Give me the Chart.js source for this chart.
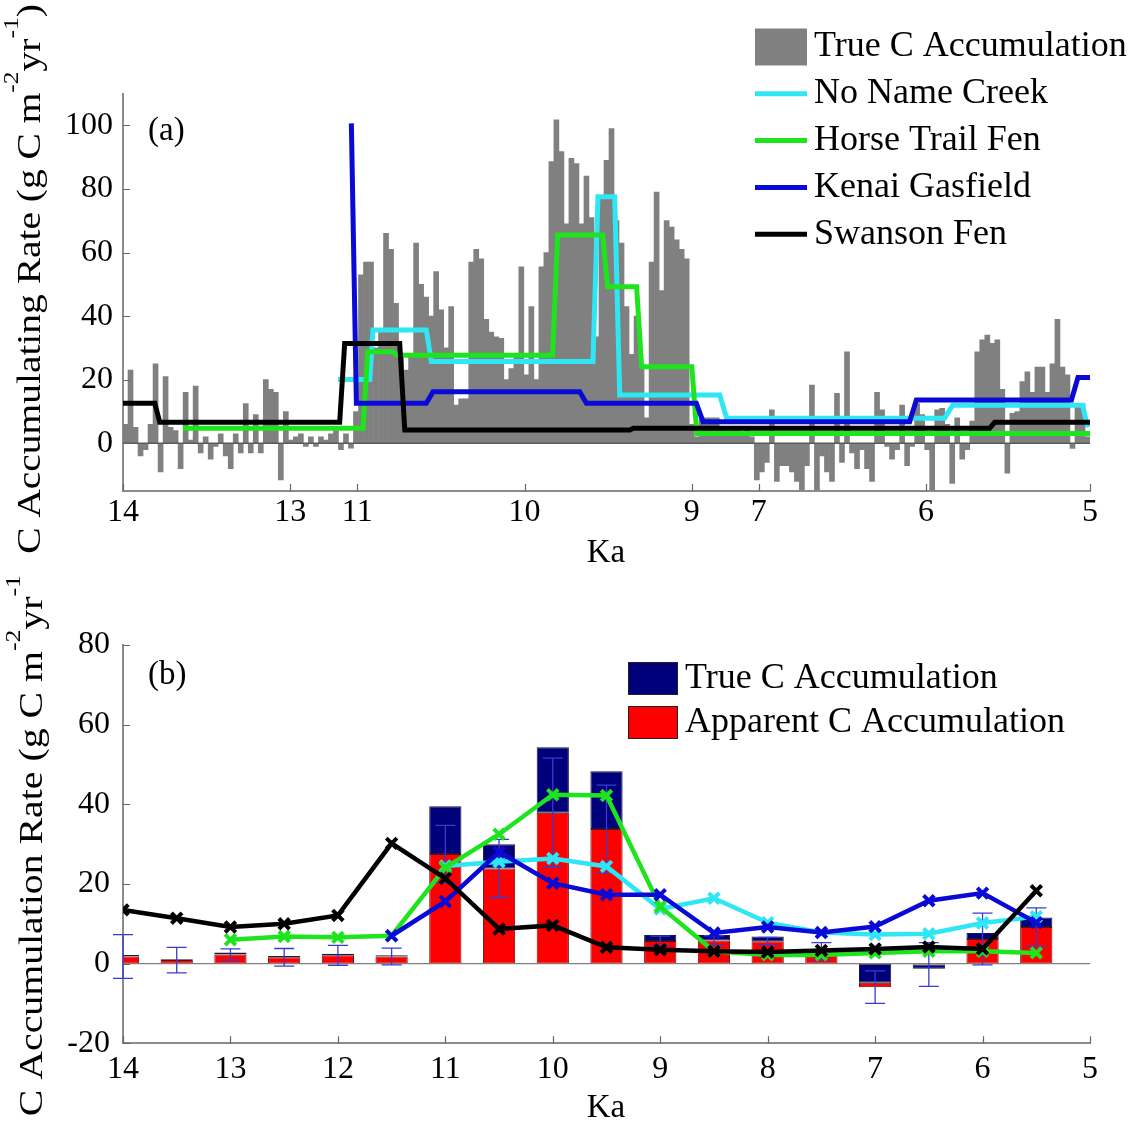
<!DOCTYPE html>
<html>
<head>
<meta charset="utf-8">
<script src="https://cdn.jsdelivr.net/npm/chart.js@4.4.1/dist/chart.umd.min.js"></script>
<style>
  html, body { margin: 0; background: #fff; overflow: hidden; }
  #wrap { position: relative; width: 1141px; height: 1123px; }
  canvas { position: absolute; left: 0; }
</style>
</head>
<body>
<div id="wrap">
  <canvas id="topChart" width="1141" height="574" style="top:0"></canvas>
  <canvas id="bottomChart" width="1141" height="549" style="top:574px"></canvas>
</div>
<script>
const serif = '"Liberation Serif", "Times New Roman", serif';

// ---------- panel (a): core-resolution record ----------
// age axis is stretched piecewise, so ticks sit at fixed positions with their own labels
const ageTickPos = [0, 1, 1.4, 2.4, 3.4, 3.8, 4.8, 5.78];
const ageTickLabels = ['14', '13', '11', '10', '9', '7', '6', '5'];
const rateTicksA = [0, 20, 40, 60, 80, 100];

// true C accumulation, evenly spaced samples along the age axis
const trueAccum = [
  6, 23, 5, -4, -2, 6, 25, -9, 21, 5,
  4, -8, 16, 1, 18, -3, 2, -5, -1, 3,
  -4, -8, 3, -3, 12.5, -3, 9, -3, 20, 17,
  16, -11.5, 10, 1, 2, 3, -1, 2, -1, 2,
  1, 3, 4, -2, 3, -1.5, 10, 53, 57, 57,
  30, 35, 66, 61, 44, 27, 23, 28, 63, 50,
  46, 40, 54, 42, 30, 43, 12, 14, 14, 57,
  61, 58, 39, 35, 33.5, 33, 20, 23.5, 28, 55.5,
  21.5, 43, 20, 55.5, 60, 88.6, 101.7, 91.7, 69, 89.6,
  88, 69, 84, 71, 33.5, 77, 89, 99, 70, 63,
  43, 28, 40, 25, 8, 57, 79, 48, 70, 68,
  64, 61, 58, 6, 2, 8, 8, 8, 8, 5,
  5, 4, 5, 3, 5, 2, -11.5, -9, -6, 10.5,
  -12, -7, -7, -9, -12, -14.7, -7, 18.3, -14.7, -4,
  -9, -12, 15.7, -6, 28.8, -3, -8, -2, -8, -12,
  16, 10.5, -1, -5, -2, 12, -7, -1, 12.5, 9,
  -2, -14.7, 10.5, 11, 6, -12.6, 8, -5, -2, 7,
  28.8, 32.5, 34, 31.4, 32.5, 17, -9.4, 9.4, 10, 19.4,
  22.5, 16, 24, 24, 16, 25, 39, 24, 21.5, -1.6,
  11.5, 12.5, 2
];

// site records: [axis position, rate]
const noNameCreek = [[1.285, 20.1], [1.475, 20.1], [1.494, 35.6], [1.813, 35.6], [1.843, 25.7], [2.809, 25.7],
  [2.839, 77.5], [2.939, 77.5], [2.969, 15.2], [3.567, 15.2], [3.608, 7.9], [4.911, 7.9], [4.959, 12],
  [5.736, 12], [5.766, 5]];
const horseTrailFen = [[0.359, 4.7], [1.435, 4.7], [1.463, 28.8], [1.612, 28.8], [1.642, 27.7], [2.568, 27.7],
  [2.598, 65.5], [2.867, 65.5], [2.897, 49.2], [3.07, 49.2], [3.1, 24.1], [3.4, 24.1], [3.43, 3.1], [5.78, 3.1]];
const kenaiGasfield = [[1.365, 100.6], [1.395, 12.6], [1.813, 12.6], [1.853, 16.2], [2.73, 16.2], [2.77, 12.6],
  [3.427, 12.6], [3.467, 6.8], [4.702, 6.8], [4.742, 13.6], [5.669, 13.6], [5.708, 20.7], [5.78, 20.7]];
const swansonFen = [[0, 12.6], [0.19, 12.6], [0.22, 6.6], [1.295, 6.6], [1.325, 31.4], [1.654, 31.4],
  [1.684, 4.2], [3.03, 4.2], [3.05, 4.7], [5.18, 4.7], [5.21, 6.6], [5.78, 6.6]];

// ---------- panel (b): 500-yr bins ----------
const binAges = [14, 13.5, 13, 12.5, 12, 11.5, 11, 10.5, 10, 9.5, 9, 8.5, 8, 7.5, 7, 6.5, 6, 5.5];
const ageTicksB = [14, 13, 12, 11, 10, 9, 8, 7, 6, 5];
const rateTicksB = [-20, 0, 20, 40, 60, 80];
const trueBin     = [2.2, 1.1, 2.8, 1.9, 2.5, 2.1, 39.5, 30.0, 54.3, 48.3, 7.2, 7.2, 6.8, 3.6, -4.8, -1.3, 7.7, 11.6];
const apparentBin = [1.8, 0.9, 2.3, 1.6, 2.1, 1.8, 27.5, 23.9, 37.9, 33.8, 5.7, 5.8, 5.6, 3.1, -5.9, -0.2, 6.2, 9.2];
const apparentErr = [5.5, 3.2, 1.4, 2.2, 2.5, 2.1, 7.2, 7.3, 13.7, 11.0, 1.2, 1.2, 1.0, 2.2, 4.1, 5.5, 6.5, 4.8];
const swansonBin  = [13.5, 11.4, 9.2, 10.0, 12.1, 30.2, 21.4, 8.7, 9.6, 4.1, 3.5, 3.1, 2.9, 3.3, 3.7, 4.2, 3.7, 18.3];
const horseBin    = [null, null, 6.0, 6.8, 6.6, 7.0, 24.1, 32.5, 42.4, 42.2, 14.3, 3.1, 2.2, 2.2, 2.7, 3.1, 3.1, 2.7];
const noNameBin   = [null, null, null, null, null, null, 24.5, 25.6, 26.4, 24.4, 13.7, 16.4, 10.3, 7.8, 7.3, 7.5, 10.2, 11.8];
const kenaiBin    = [null, null, null, null, null, 7.0, 15.6, 28.0, 20.2, 17.3, 17.3, 7.7, 9.2, 7.8, 9.3, 15.8, 17.7, 10.3];

const colors = { gray: '#808080', cyan: '#2ee6f4', green: '#1ee41e', blue: '#0a0ad6', black: '#000000',
  navy: '#00007a', red: '#ff0000' };

// ---------- small drawing plugins ----------
function innerTicks(len, color) {
  return {
    id: 'innerTicks',
    afterDraw(chart) {
      const { ctx, chartArea: a, scales: { x, y } } = chart;
      ctx.save();
      ctx.strokeStyle = color;
      ctx.lineWidth = 1.2;
      ctx.beginPath();
      x.ticks.forEach(t => {
        const p = Math.round(x.getPixelForValue(t.value)) + 0.5;
        ctx.moveTo(p, a.bottom); ctx.lineTo(p, a.bottom - len);
      });
      y.ticks.forEach(t => {
        const p = Math.round(y.getPixelForValue(t.value)) + 0.5;
        ctx.moveTo(a.left, p); ctx.lineTo(a.left + len, p);
      });
      ctx.stroke();
      ctx.restore();
    }
  };
}

function zeroLine(afterIndex, color, width) {
  return {
    id: 'zeroLine',
    afterDatasetDraw(chart, args) {
      if (args.index !== afterIndex) return;
      const { ctx, chartArea: a, scales: { y } } = chart;
      const p = y.getPixelForValue(0);
      ctx.save();
      ctx.strokeStyle = color;
      ctx.lineWidth = width;
      ctx.beginPath(); ctx.moveTo(a.left, p); ctx.lineTo(a.right, p); ctx.stroke();
      ctx.restore();
    }
  };
}

function errorBars(afterIndex, xs, centers, errs, color, cap) {
  return {
    id: 'errorBars',
    afterDatasetDraw(chart, args) {
      if (args.index !== afterIndex) return;
      const { ctx, scales: { x, y } } = chart;
      ctx.save();
      ctx.strokeStyle = color;
      ctx.lineWidth = 1.3;
      ctx.beginPath();
      xs.forEach((xv, i) => {
        const px = x.getPixelForValue(xv);
        const top = y.getPixelForValue(centers[i] + errs[i]);
        const bot = y.getPixelForValue(centers[i] - errs[i]);
        ctx.moveTo(px, top); ctx.lineTo(px, bot);
        ctx.moveTo(px - cap, top); ctx.lineTo(px + cap, top);
        ctx.moveTo(px - cap, bot); ctx.lineTo(px + cap, bot);
      });
      ctx.stroke();
      ctx.restore();
    }
  };
}

// legend drawn from the datasets' own labels and colours
function legendBlock(cfg) {
  return {
    id: 'legendBlock',
    afterDraw(chart) {
      const ctx = chart.ctx;
      ctx.save();
      ctx.font = cfg.size + 'px ' + serif;
      ctx.textBaseline = 'middle';
      ctx.textAlign = 'left';
      cfg.rows.forEach((di, r) => {
        const ds = chart.data.datasets[di];
        const cy = cfg.y + r * cfg.rowH;
        if (ds.type === 'line') {
          ctx.strokeStyle = ds.borderColor;
          ctx.lineWidth = cfg.lineW;
          ctx.beginPath(); ctx.moveTo(cfg.x, cy); ctx.lineTo(cfg.x + cfg.w, cy); ctx.stroke();
        } else {
          ctx.fillStyle = ds.legendColor || ds.backgroundColor;
          ctx.fillRect(cfg.x, cy - cfg.h / 2, cfg.w, cfg.h);
          if (cfg.edge) {
            ctx.strokeStyle = cfg.edge; ctx.lineWidth = 1;
            ctx.strokeRect(cfg.x + 0.5, cy - cfg.h / 2 + 0.5, cfg.w - 1, cfg.h - 1);
          }
        }
        ctx.fillStyle = '#000';
        ctx.fillText(ds.label, cfg.x + cfg.w + cfg.gap, cy);
      });
      ctx.restore();
    }
  };
}

// free text: panel letter, x-axis name and a rotated y title with superscripts
function annotations(cfg) {
  return {
    id: 'annotations',
    afterDraw(chart) {
      const ctx = chart.ctx;
      ctx.save();
      ctx.fillStyle = '#000';
      ctx.font = cfg.panelSize + 'px ' + serif;
      ctx.textBaseline = 'middle';
      ctx.textAlign = 'left';
      ctx.fillText(cfg.panel, cfg.panelX, cfg.panelY);
      ctx.textAlign = 'center';
      ctx.fillText('Ka', cfg.kaX, cfg.kaY);

      // rotated y title
      const t = cfg.title;
      ctx.translate(t.x, t.y);
      ctx.rotate(-Math.PI / 2);
      ctx.scale(t.stretch, 1);
      ctx.textAlign = 'left';
      ctx.textBaseline = 'alphabetic';
      let total = 0;
      t.parts.forEach(p => {
        ctx.font = (p.sup ? t.supSize : t.size) + 'px ' + serif;
        total += ctx.measureText(p.text).width;
      });
      let cx = -total / 2;
      t.parts.forEach(p => {
        ctx.font = (p.sup ? t.supSize : t.size) + 'px ' + serif;
        ctx.fillText(p.text, cx, p.sup ? -t.raise : 0);
        cx += ctx.measureText(p.text).width;
      });
      ctx.restore();
    }
  };
}

function tickFont() { return { family: serif, size: 32 }; }

// ---------- chart (a) ----------
const grayStep = ageTickPos[ageTickPos.length - 1] / trueAccum.length;

function siteLine(label, pts, color) {
  return {
    type: 'line', label, data: pts.map(p => ({ x: p[0], y: p[1] })),
    borderColor: color, borderWidth: 5, pointRadius: 0, tension: 0, fill: false
  };
}

new Chart(document.getElementById('topChart'), {
  type: 'bar',
  data: {
    datasets: [
      { label: 'True C Accumulation', data: trueAccum.map((v, i) => ({ x: (i + 0.5) * grayStep, y: v })),
        backgroundColor: colors.gray, barPercentage: 1, categoryPercentage: 1, order: 10 },
      Object.assign(siteLine('No Name Creek', noNameCreek, colors.cyan), { order: 4 }),
      Object.assign(siteLine('Horse Trail Fen', horseTrailFen, colors.green), { order: 3 }),
      Object.assign(siteLine('Kenai Gasfield', kenaiGasfield, colors.blue), { order: 2 }),
      Object.assign(siteLine('Swanson Fen', swansonFen, colors.black), { order: 1 })
    ]
  },
  options: {
    responsive: false,
    animation: false,
    layout: { padding: { left: 0, right: 51, top: 93.5, bottom: 0 } },
    plugins: { legend: { display: false }, tooltip: { enabled: false } },
    scales: {
      x: {
        type: 'linear', min: 0, max: ageTickPos[ageTickPos.length - 1], offset: false,
        afterBuildTicks: s => { s.ticks = ageTickPos.map(v => ({ value: v })); },
        ticks: { callback: (v, i) => ageTickLabels[i], font: tickFont(), color: '#000', padding: 2,
          maxRotation: 0, autoSkip: false },
        grid: { display: false, drawTicks: false },
        border: { color: '#8c8c8c', width: 2 },
        afterFit: s => { s.height = 83; }
      },
      y: {
        min: -15, max: 110,
        afterBuildTicks: s => { s.ticks = rateTicksA.map(v => ({ value: v })); },
        ticks: { font: tickFont(), color: '#000', padding: 10 },
        grid: { display: false, drawTicks: false },
        border: { color: '#8c8c8c', width: 2 },
        afterFit: s => { s.width = 123; }
      }
    }
  },
  plugins: [
    zeroLine(0, '#5a5a5a', 1.5),
    innerTicks(7, '#666'),
    legendBlock({ x: 755, y: 47, rowH: 46.8, w: 52, h: 37, lineW: 5, gap: 7, size: 36, rows: [0, 1, 2, 3, 4] }),
    annotations({
      panel: '(a)', panelX: 148, panelY: 131, panelSize: 33, kaX: 606, kaY: 553,
      title: { x: 40, y: 279, size: 34, supSize: 22, raise: 22, stretch: 1.16,
        parts: [{ text: 'C Accumulating Rate (g C m' }, { text: '-2', sup: true }, { text: 'yr' },
          { text: '-1', sup: true }, { text: ')' }] }
    })
  ]
});

// ---------- chart (b) ----------
// true / apparent bars overlap: whichever is larger in magnitude shows only beyond the other
const redSegments = binAges.map((a, i) => ({ x: a,
  y: Math.abs(apparentBin[i]) > Math.abs(trueBin[i]) ? [trueBin[i], apparentBin[i]] : [0, apparentBin[i]] }));
const blueSegments = binAges.map((a, i) => ({ x: a,
  y: Math.abs(trueBin[i]) >= Math.abs(apparentBin[i]) ? [apparentBin[i], trueBin[i]] : [0, trueBin[i]] }));

function binLine(label, vals, color, order) {
  return {
    type: 'line', label, order,
    data: binAges.map((a, i) => ({ x: a, y: vals[i] })),
    borderColor: color, backgroundColor: color, borderWidth: 4.5, tension: 0, fill: false,
    pointStyle: 'crossRot', pointRadius: 7.5, pointBorderWidth: 4, pointBorderColor: color, spanGaps: false
  };
}

new Chart(document.getElementById('bottomChart'), {
  type: 'bar',
  data: {
    datasets: [
      { label: 'True C Accumulation', data: blueSegments, backgroundColor: colors.navy, legendColor: colors.navy,
        borderColor: '#1a1a3a', borderWidth: 1, borderSkipped: false, grouped: false,
        barPercentage: 0.6, categoryPercentage: 1, order: 11 },
      { label: 'Apparent C Accumulation', data: redSegments, backgroundColor: colors.red, legendColor: colors.red,
        borderColor: '#5a1010', borderWidth: 1, borderSkipped: false, grouped: false,
        barPercentage: 0.6, categoryPercentage: 1, order: 10 },
      binLine('No Name Creek', noNameBin, colors.cyan, 4),
      binLine('Horse Trail Fen', horseBin, colors.green, 3),
      binLine('Kenai Gasfield', kenaiBin, colors.blue, 2),
      binLine('Swanson Fen', swansonBin, colors.black, 1)
    ]
  },
  options: {
    responsive: false,
    animation: false,
    layout: { padding: { left: 0, right: 51, top: 71, bottom: 0 } },
    plugins: { legend: { display: false }, tooltip: { enabled: false } },
    scales: {
      x: {
        type: 'linear', min: 5, max: 14, reverse: true, offset: false,
        afterBuildTicks: s => { s.ticks = ageTicksB.map(v => ({ value: v })); },
        ticks: { font: tickFont(), color: '#000', padding: 7, maxRotation: 0, autoSkip: false },
        grid: { display: false, drawTicks: false },
        border: { color: '#8c8c8c', width: 2 },
        afterFit: s => { s.height = 79.7; }
      },
      y: {
        min: -20, max: 80,
        afterBuildTicks: s => { s.ticks = rateTicksB.map(v => ({ value: v })); },
        ticks: { font: tickFont(), color: '#000', padding: 13 },
        grid: { display: false, drawTicks: false },
        border: { color: '#8c8c8c', width: 2 },
        afterFit: s => { s.width = 123; }
      }
    }
  },
  plugins: [
    zeroLine(1, '#808080', 1.2),
    errorBars(1, binAges, apparentBin, apparentErr, '#3a3ad0', 10),
    innerTicks(7, '#666'),
    legendBlock({ x: 628, y: 104.5, rowH: 44, w: 50, h: 33, lineW: 5, gap: 7, size: 36, edge: '#222', rows: [0, 1] }),
    annotations({
      panel: '(b)', panelX: 148, panelY: 101, panelSize: 33, kaX: 606, kaY: 534,
      title: { x: 42, y: 265, size: 34, supSize: 22, raise: 22, stretch: 1.17,
        parts: [{ text: 'C Accumulation Rate (g C m' }, { text: '-2', sup: true }, { text: 'yr' },
          { text: '-1', sup: true }, { text: ')' }] }
    })
  ]
});
</script>
</body>
</html>
